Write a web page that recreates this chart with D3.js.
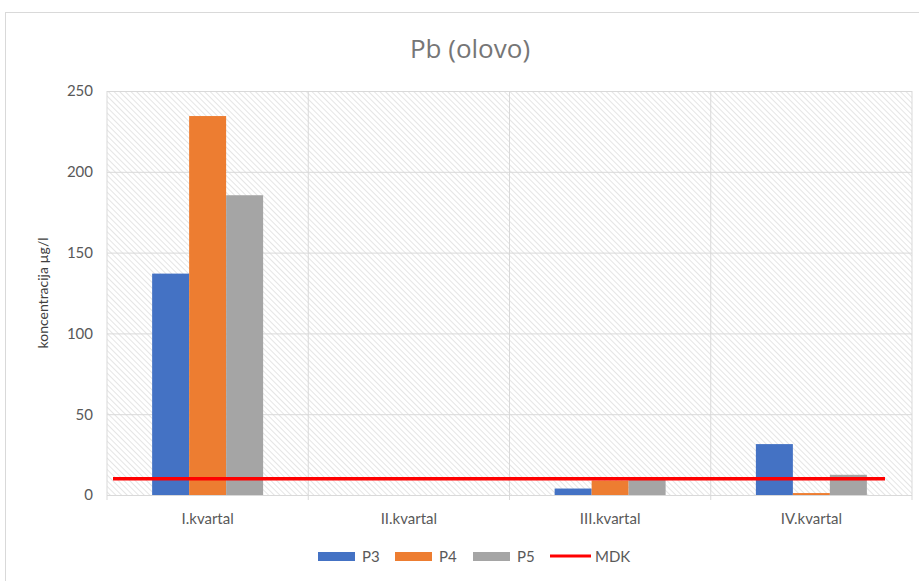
<!DOCTYPE html>
<html>
<head>
<meta charset="utf-8">
<script src="https://cdn.jsdelivr.net/npm/d3@7"></script>
<style>
  body { margin: 0; background: #fff; }
  text { font-family: Lato, "Open Sans", sans-serif; fill: #595959; }
</style>
</head>
<body>
<div id="chart"></div>
<script>
const categories = ['I.kvartal', 'II.kvartal', 'III.kvartal', 'IV.kvartal'];
const seriesNames = ['P3', 'P4', 'P5'];
const p3 = [137, 0, 4, 31.5];
const p4 = [234.5, 0, 9, 1.2];
const p5 = [185.5, 0, 9.5, 12.5];
const mdk = [10, 10, 10, 10];
const yTicks = [0, 50, 100, 150, 200, 250];
const colors = ['#4472c4', '#ed7d31', '#a5a5a5'];

const W = 919, H = 581;
const MARGIN = { TOP: 91, BOTTOM: 86, LEFT: 107, RIGHT: 7 };
const WIDTH = W - MARGIN.LEFT - MARGIN.RIGHT;
const HEIGHT = H - MARGIN.TOP - MARGIN.BOTTOM;

const svg = d3.select('#chart').append('svg')
  .attr('width', W)
  .attr('height', H);

// chart frame
svg.append('rect')
  .attr('x', 5.5).attr('y', 12.5)
  .attr('width', W + 10).attr('height', H)
  .attr('fill', 'none').attr('stroke', '#d9d9d9');

// hatch pattern for the plot area
const pat = svg.append('defs').append('pattern')
  .attr('id', 'hatch')
  .attr('patternUnits', 'userSpaceOnUse')
  .attr('width', 4).attr('height', 4)
  .attr('patternTransform', 'rotate(-45)');
pat.append('line')
  .attr('x1', 0).attr('y1', 0).attr('x2', 0).attr('y2', 4)
  .attr('stroke', '#d4d4d4').attr('stroke-width', 1.2);

const g = svg.append('g')
  .attr('transform', `translate(${MARGIN.LEFT}, ${MARGIN.TOP})`);

const y = d3.scaleLinear().domain([0, 250]).range([HEIGHT, 0]);
const x = d3.scaleBand().domain(categories).range([0, WIDTH]);
const x1 = d3.scaleBand().domain(seriesNames)
  .range([0, x.bandwidth()]).paddingOuter(1.22).paddingInner(0);

g.append('rect')
  .attr('width', WIDTH).attr('height', HEIGHT)
  .attr('fill', 'url(#hatch)');

// gridlines
g.append('g').call(d3.axisLeft(y).tickValues(yTicks).tickSize(-WIDTH).tickFormat(''))
  .call(s => s.select('.domain').remove())
  .call(s => s.selectAll('line').attr('stroke', '#d9d9d9'));

g.append('g')
  .selectAll('line')
  .data(d3.range(categories.length + 1))
  .join('line')
  .attr('x1', i => i * x.step()).attr('x2', i => i * x.step())
  .attr('y1', 0).attr('y2', HEIGHT + 5)
  .attr('stroke', '#d9d9d9');

// y axis labels
g.append('g').call(d3.axisLeft(y).tickValues(yTicks).tickSize(0).tickPadding(14))
  .call(s => s.select('.domain').remove())
  .call(s => s.selectAll('text').style('font-size', '15px').attr('fill', '#595959'));

// x axis labels
g.append('g')
  .attr('transform', `translate(0, ${HEIGHT})`)
  .call(d3.axisBottom(x).tickSize(0).tickPadding(18))
  .call(s => s.select('.domain').remove())
  .call(s => s.selectAll('text').style('font-size', '15px').attr('fill', '#595959'));

// bars
const rows = categories.map((c, i) => ({ cat: c, vals: [p3[i], p4[i], p5[i]] }));
g.append('g')
  .selectAll('g')
  .data(rows)
  .join('g')
  .attr('transform', d => `translate(${x(d.cat)}, 0)`)
  .selectAll('rect')
  .data(d => d.vals.map((v, j) => ({ name: seriesNames[j], v, c: colors[j] })))
  .join('rect')
  .attr('x', d => x1(d.name))
  .attr('y', d => y(d.v))
  .attr('width', x1.bandwidth())
  .attr('height', d => HEIGHT - y(d.v))
  .attr('fill', d => d.c);

// MDK line
const lineX = d3.scaleLinear().domain([0, categories.length - 1])
  .range([6, WIDTH - 27]);
g.append('path')
  .datum(mdk)
  .attr('d', d3.line().x((d, i) => lineX(i)).y(d => y(d)))
  .attr('fill', 'none')
  .attr('stroke', '#ff0000')
  .attr('stroke-width', 3.5);

// title
svg.append('text')
  .attr('x', 470).attr('y', 58)
  .attr('text-anchor', 'middle')
  .style('font-family', '"Open Sans", sans-serif')
  .style('font-size', '26px')
  .style('fill', '#767676')
  .text('Pb (olovo)');

// y axis title
svg.append('text')
  .attr('transform', `translate(48, ${MARGIN.TOP + HEIGHT / 2}) rotate(-90)`)
  .attr('text-anchor', 'middle')
  .style('font-size', '14px')
  .style('fill', '#404040')
  .text('koncentracija µg/l');

// legend
const legend = svg.append('g').attr('transform', 'translate(318, 556)');
const legendItems = [
  { name: 'P3', c: colors[0], off: 0, type: 'bar' },
  { name: 'P4', c: colors[1], off: 77, type: 'bar' },
  { name: 'P5', c: colors[2], off: 155, type: 'bar' },
  { name: 'MDK', c: '#ff0000', off: 232, type: 'line' }
];
const li = legend.selectAll('g').data(legendItems).join('g')
  .attr('transform', d => `translate(${d.off}, 0)`);
li.filter(d => d.type === 'bar').append('rect')
  .attr('x', 0).attr('y', -4).attr('width', 37).attr('height', 9)
  .attr('fill', d => d.c);
li.filter(d => d.type === 'line').append('line')
  .attr('x1', 0).attr('x2', 41).attr('y1', 0).attr('y2', 0)
  .attr('stroke', d => d.c).attr('stroke-width', 3);
li.append('text')
  .attr('x', d => d.type === 'line' ? 45 : 44)
  .attr('y', 6)
  .style('font-size', '15px')
  .text(d => d.name);
</script>
</body>
</html>
